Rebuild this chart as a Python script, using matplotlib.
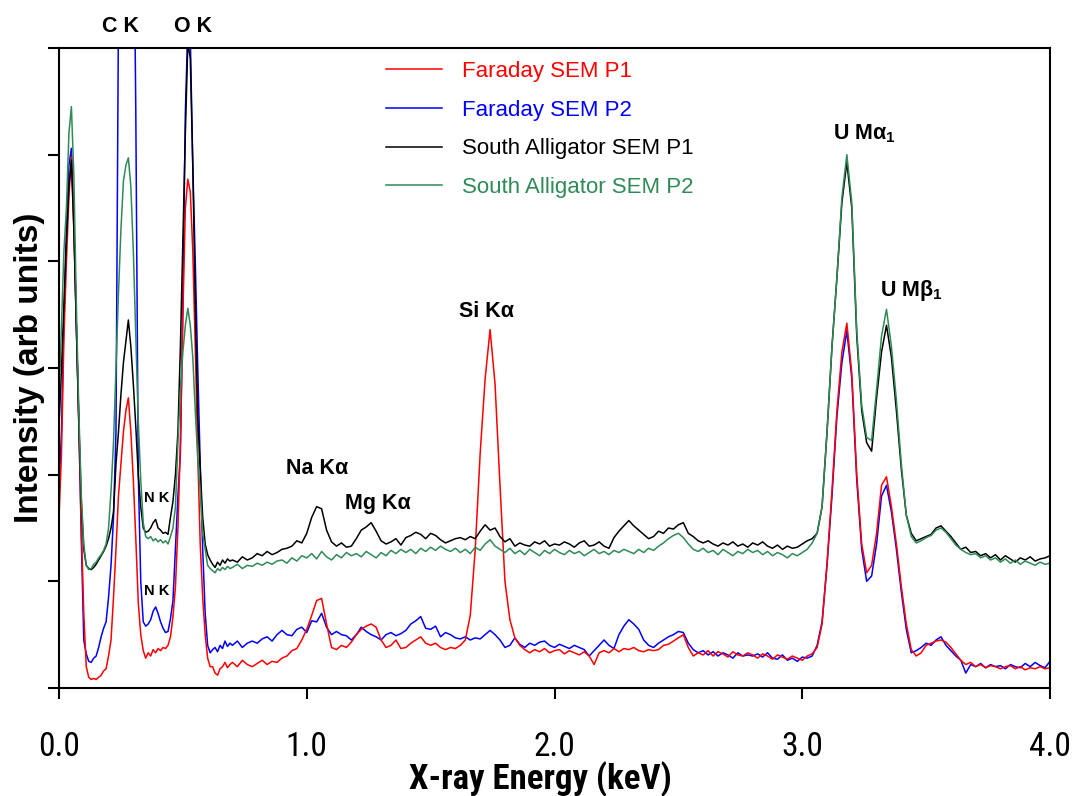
import numpy as np
import matplotlib
matplotlib.use('Agg')
import matplotlib.pyplot as plt

plt.rcParams['font.family'] = ['Liberation Sans', 'DejaVu Sans']
plt.rcParams['mathtext.fontset'] = 'custom'
plt.rcParams['mathtext.rm'] = 'Liberation Sans:bold'
plt.rcParams['mathtext.bf'] = 'Liberation Sans:bold'

# energy channels (keV): 0.01 steps below 0.7 keV, 0.02 steps above
energy_lo = np.round(np.arange(0.0, 0.695, 0.01), 2)
energy_hi = np.round(np.arange(0.70, 4.001, 0.02), 2)
energy = np.concatenate([energy_lo, energy_hi])

# ---- Faraday SEM P1 (red)
faraday_p1_lo = [
    1.6, 2.2, 3.3, 4.0, 4.6, 4.98, 4.3, 3.4, 2.45, 1.5,
    0.7, 0.2, 0.1, 0.08, 0.09, 0.08, 0.1, 0.12, 0.16, 0.18,
    0.3, 0.45, 0.85, 1.3, 1.8, 2.1, 2.4, 2.6, 2.72, 2.4,
    1.95, 1.4, 0.8, 0.5, 0.35, 0.28, 0.33, 0.3, 0.36, 0.33,
    0.37, 0.35, 0.38, 0.37, 0.4, 0.48, 0.67, 0.95, 1.5, 2.3,
    3.5, 4.5, 4.77, 4.65, 4.1, 3.2, 2.2, 1.35, 0.85, 0.5,
    0.28, 0.2, 0.2, 0.14, 0.12, 0.18, 0.2, 0.24, 0.19, 0.22]
faraday_p1_hi = [
    0.24, 0.2, 0.26, 0.22, 0.2, 0.23, 0.26, 0.22, 0.25, 0.24,
    0.28, 0.3, 0.35, 0.37, 0.45, 0.55, 0.68, 0.82, 0.84, 0.6,
    0.38, 0.36, 0.4, 0.38, 0.43, 0.5, 0.55, 0.58, 0.6, 0.57,
    0.45, 0.38, 0.4, 0.45, 0.37, 0.38, 0.42, 0.45, 0.48, 0.42,
    0.4, 0.42, 0.38, 0.36, 0.38, 0.37, 0.4, 0.45, 0.68, 1.3,
    2.2, 2.9, 3.36, 2.85, 1.9, 1.0, 0.64, 0.47, 0.4, 0.36,
    0.33, 0.36, 0.34, 0.37, 0.33, 0.35, 0.36, 0.32, 0.35, 0.33,
    0.31, 0.34, 0.3, 0.22, 0.33, 0.35, 0.33, 0.37, 0.34, 0.37,
    0.36, 0.38, 0.35, 0.34, 0.36, 0.35, 0.36, 0.4, 0.41, 0.44,
    0.47, 0.5, 0.38, 0.3, 0.33, 0.31, 0.35, 0.3, 0.34, 0.32,
    0.29, 0.34, 0.31, 0.3, 0.33, 0.31, 0.28, 0.32, 0.3, 0.27,
    0.31, 0.29, 0.27, 0.3, 0.28, 0.26, 0.3, 0.32, 0.38, 0.6,
    1.17, 1.85, 2.6, 3.15, 3.42, 2.95, 2.0, 1.35, 1.08, 1.15,
    1.45, 1.9, 1.98, 1.7, 1.35, 0.95, 0.6, 0.36, 0.3, 0.33,
    0.4, 0.42, 0.44, 0.45, 0.43, 0.38, 0.32, 0.26, 0.22, 0.24,
    0.2, 0.22, 0.19, 0.21, 0.2, 0.18, 0.2, 0.21, 0.18, 0.2,
    0.17, 0.19, 0.18, 0.2, 0.18, 0.19]

# ---- Faraday SEM P2 (blue)
faraday_p2_lo = [
    1.85, 2.4, 3.5, 4.3, 4.9, 5.06, 4.4, 3.4, 2.5, 1.4,
    0.45, 0.32, 0.25, 0.24, 0.28, 0.3, 0.38, 0.48, 0.56, 0.62,
    0.85, 1.15, 1.6, 2.4, 6.4, 8.2, 9.5, 10.0, 10.0, 9.4,
    7.8, 5.4, 2.0, 1.0, 0.62, 0.58, 0.6, 0.64, 0.72, 0.76,
    0.7, 0.62, 0.56, 0.52, 0.53, 0.65, 0.82, 1.3, 1.8, 2.2,
    3.6, 5.4, 6.2, 6.1, 4.9, 4.0, 3.0, 2.1, 1.3, 0.7,
    0.4, 0.33, 0.36, 0.38, 0.34, 0.4, 0.37, 0.44, 0.39, 0.42]
faraday_p2_hi = [
    0.4, 0.44, 0.38, 0.42, 0.44, 0.42, 0.46, 0.48, 0.44, 0.5,
    0.54, 0.5, 0.49, 0.55, 0.57, 0.52, 0.63, 0.62, 0.7, 0.57,
    0.5, 0.53, 0.5, 0.49, 0.45, 0.5, 0.57, 0.53, 0.5, 0.48,
    0.45, 0.5, 0.52, 0.49, 0.51, 0.54, 0.6, 0.63, 0.67, 0.56,
    0.55, 0.58, 0.48, 0.52, 0.5, 0.47, 0.46, 0.48, 0.45, 0.47,
    0.46, 0.5, 0.54, 0.5, 0.45, 0.38, 0.4, 0.47, 0.41, 0.38,
    0.42, 0.4, 0.43, 0.44, 0.4, 0.38, 0.41, 0.39, 0.37, 0.4,
    0.38, 0.36, 0.3, 0.35, 0.4, 0.45, 0.4, 0.37, 0.5, 0.58,
    0.64, 0.6, 0.55, 0.45, 0.4, 0.38, 0.42, 0.45, 0.48, 0.5,
    0.53, 0.52, 0.42, 0.36, 0.33, 0.35, 0.31, 0.34, 0.3, 0.33,
    0.31, 0.28, 0.33, 0.3, 0.31, 0.3, 0.32, 0.29, 0.33, 0.28,
    0.27, 0.31, 0.26, 0.28, 0.25, 0.29, 0.28, 0.3, 0.4, 0.62,
    1.15, 1.8, 2.55, 3.05, 3.35, 2.9, 1.95, 1.3, 1.0, 1.05,
    1.35, 1.8, 1.9, 1.65, 1.3, 0.9, 0.55, 0.33, 0.35, 0.38,
    0.42, 0.4, 0.45, 0.48, 0.4, 0.35, 0.3, 0.26, 0.14, 0.22,
    0.2, 0.23, 0.19, 0.22, 0.2, 0.21, 0.18, 0.22, 0.2, 0.19,
    0.23, 0.2, 0.24, 0.21, 0.19, 0.25]

# ---- South Alligator SEM P1 (black)
alligator_p1_lo = [
    2.45, 3.0, 3.6, 4.2, 4.7, 4.95, 4.3, 3.4, 2.5, 1.75,
    1.3, 1.15, 1.12, 1.11, 1.13, 1.16, 1.2, 1.24, 1.28, 1.33,
    1.4, 1.5, 1.65, 2.1, 2.4, 2.75, 3.05, 3.25, 3.45, 3.2,
    2.85, 2.45, 2.0, 1.7, 1.5, 1.46, 1.47, 1.5, 1.55, 1.58,
    1.5, 1.48, 1.45, 1.46, 1.44, 1.6, 1.75, 2.0, 2.4, 3.2,
    4.2, 5.2, 6.05, 5.9, 4.9, 3.6, 2.55, 2.05, 1.6, 1.35,
    1.25, 1.2, 1.16, 1.13, 1.18, 1.15, 1.2, 1.17, 1.21, 1.19]
alligator_p1_hi = [
    1.2, 1.18, 1.23, 1.2, 1.22, 1.26, 1.24, 1.28, 1.25, 1.27,
    1.3, 1.31, 1.33, 1.38, 1.36, 1.45, 1.6, 1.7, 1.68, 1.48,
    1.37, 1.33, 1.36, 1.32, 1.33, 1.4, 1.48, 1.51, 1.55, 1.47,
    1.38, 1.35, 1.37, 1.4, 1.34, 1.41, 1.43, 1.46, 1.44, 1.4,
    1.45, 1.43, 1.39, 1.36, 1.38, 1.4, 1.41, 1.39, 1.42, 1.4,
    1.47, 1.53, 1.48, 1.5, 1.42, 1.37, 1.4, 1.33, 1.36, 1.34,
    1.33, 1.37, 1.35, 1.38, 1.33, 1.35, 1.34, 1.37, 1.35, 1.32,
    1.36, 1.38, 1.33, 1.34, 1.37, 1.33, 1.31, 1.41, 1.47, 1.52,
    1.57, 1.52, 1.48, 1.44, 1.4, 1.42, 1.47, 1.45, 1.5, 1.49,
    1.53, 1.55, 1.45, 1.42, 1.38, 1.36, 1.38, 1.35, 1.33, 1.36,
    1.34, 1.37, 1.33, 1.35, 1.32, 1.36, 1.34, 1.37, 1.33, 1.31,
    1.34, 1.3, 1.33, 1.31, 1.32, 1.35, 1.38, 1.4, 1.45, 1.7,
    2.4, 3.2, 3.85, 4.55, 4.93, 4.5, 3.3, 2.6, 2.3, 2.22,
    2.72, 3.15, 3.4, 3.1, 2.6, 2.05, 1.62, 1.45, 1.38, 1.4,
    1.42, 1.44, 1.5, 1.52, 1.47, 1.42, 1.36, 1.3, 1.32, 1.27,
    1.28, 1.24, 1.26, 1.22, 1.25, 1.2, 1.24, 1.21, 1.18, 1.22,
    1.2, 1.23, 1.19, 1.21, 1.22, 1.24]

# ---- South Alligator SEM P2 (green)
alligator_p2_lo = [
    2.7, 3.4, 4.1, 4.5, 5.2, 5.45, 4.8, 3.6, 2.6, 1.8,
    1.35, 1.15, 1.11, 1.12, 1.16, 1.18, 1.22, 1.25, 1.29, 1.35,
    1.5, 1.85, 2.3, 3.0, 3.7, 4.3, 4.75, 4.9, 4.97, 4.7,
    4.1, 3.3, 2.5, 1.95, 1.55, 1.42, 1.4, 1.42, 1.38, 1.4,
    1.37, 1.39, 1.36, 1.38, 1.35, 1.42, 1.5, 1.7, 2.3, 2.8,
    3.15, 3.4, 3.56, 3.4, 3.1, 2.6, 2.15, 1.85, 1.45, 1.3,
    1.15, 1.12, 1.1, 1.08, 1.12, 1.1, 1.13, 1.11, 1.14, 1.12]
alligator_p2_hi = [
    1.13, 1.16, 1.12, 1.15, 1.14, 1.17, 1.15, 1.18, 1.16, 1.19,
    1.2, 1.17, 1.22, 1.19, 1.24, 1.22, 1.26, 1.21, 1.28, 1.23,
    1.2, 1.25, 1.22, 1.27, 1.24, 1.26, 1.23, 1.28, 1.25, 1.22,
    1.27, 1.24, 1.29, 1.26, 1.3, 1.27, 1.3, 1.26, 1.31, 1.28,
    1.32, 1.29, 1.33, 1.3, 1.28, 1.31, 1.27, 1.3, 1.26, 1.32,
    1.29, 1.35, 1.39, 1.33, 1.3, 1.27, 1.31, 1.26, 1.29, 1.25,
    1.3, 1.27, 1.24, 1.29, 1.26, 1.3, 1.27, 1.25, 1.29, 1.26,
    1.28, 1.24, 1.27, 1.3, 1.26, 1.28, 1.25, 1.29, 1.27, 1.3,
    1.28, 1.26, 1.3, 1.27, 1.31, 1.29, 1.33, 1.36, 1.4, 1.43,
    1.45, 1.41, 1.35, 1.3, 1.28, 1.31, 1.27, 1.29, 1.25, 1.3,
    1.27, 1.24, 1.28, 1.26, 1.3, 1.27, 1.29, 1.25, 1.28, 1.24,
    1.27, 1.25, 1.22, 1.26, 1.24, 1.27, 1.3, 1.36, 1.45, 1.7,
    2.4, 3.2, 3.85, 4.6, 5.0, 4.55, 3.35, 2.65, 2.35, 2.32,
    2.8, 3.3, 3.55, 3.2, 2.7, 2.1, 1.62, 1.42, 1.36, 1.38,
    1.41, 1.43, 1.48, 1.5, 1.46, 1.4, 1.34, 1.3, 1.27, 1.25,
    1.26, 1.22, 1.24, 1.2, 1.22, 1.18, 1.21, 1.17, 1.2, 1.16,
    1.19, 1.17, 1.15, 1.18, 1.16, 1.17]

series_names = ['Faraday SEM P1', 'Faraday SEM P2',
                'South Alligator SEM P1', 'South Alligator SEM P2']
series_colors = ['#ff0000', '#0000ff', '#000000', '#2e8b57']
series_data = [faraday_p1_lo + faraday_p1_hi, faraday_p2_lo + faraday_p2_hi,
               alligator_p1_lo + alligator_p1_hi, alligator_p2_lo + alligator_p2_hi]

# peak labels: (text, energy, intensity, fontsize)
peak_labels = [
    ('C K', 0.25, 6.2, 15.5), ('O K', 0.54, 6.2, 15.5),
    ('N K', 0.395, 1.78, 10.5), ('N K', 0.395, 0.91, 10.5),
    ('Na K\u03b1', 1.04, 2.06, 15.5), ('Mg K\u03b1', 1.286, 1.73, 15.5),
    ('Si K\u03b1', 1.726, 3.53, 15.5),
    ('U M\u03b1$_{\\mathbf{1}}$', 3.25, 5.2, 15.5),
    ('U M\u03b2$_{\\mathbf{1}}$', 3.44, 3.73, 15.5),
]

narrow = ['Roboto Condensed', 'Liberation Sans', 'DejaVu Sans']

fig = plt.figure(figsize=(10.78, 7.96), dpi=100)
ax = fig.add_axes([59 / 1078, 1 - 688 / 796, 991 / 1078, 640 / 796])

lines = {}
for idx in [1, 0, 2, 3]:
    y = np.array(series_data[idx])
    lines[idx], = ax.plot(energy, y, color=series_colors[idx], lw=1.1,
                          label=series_names[idx])

ax.set_xlim(0, 4.0)
ax.set_ylim(0, 6)
ax.set_xticks([0, 1, 2, 3, 4])
ax.set_xticklabels(['0.0', '1.0', '2.0', '3.0', '4.0'], family=narrow)
ax.set_yticks([0, 1, 2, 3, 4, 5, 6])
ax.set_yticklabels([])
ax.tick_params(direction='out', length=8, width=1.5, color='black')
ax.tick_params(axis='x', labelsize=24, pad=23)
for sp in ax.spines.values():
    sp.set_linewidth(1.5)

ax.set_xlabel('X-ray Energy (keV)', fontsize=25, fontweight='bold', family=narrow)
ax.xaxis.set_label_coords(0.486, -0.114)
ax.set_ylabel('Intensity (arb units)', fontsize=24, fontweight='bold')
ax.yaxis.set_label_coords(-0.014, 0.5)

for text, e, inten, fs in peak_labels:
    ax.text(e, inten, text, fontsize=fs, fontweight='bold', ha='center',
            va='center', clip_on=False)

ax.legend(handles=[lines[0], lines[1], lines[2], lines[3]], loc='upper left',
          bbox_to_anchor=(0.33, 0.98), frameon=False, fontsize=16,
          handlelength=2.5, handletextpad=0.9, labelspacing=0.8,
          borderpad=0, borderaxespad=0, labelcolor='linecolor')

fig.savefig('out.png', dpi=100)
